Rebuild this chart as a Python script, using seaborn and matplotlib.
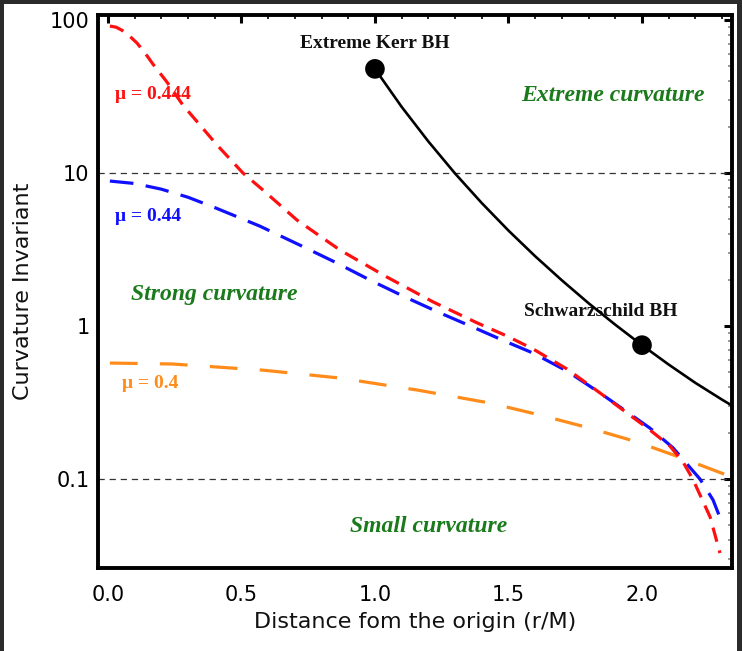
import matplotlib
matplotlib.use("Agg")
import matplotlib.pyplot as plt
import matplotlib.ticker as mticker
from matplotlib.patches import Rectangle
import seaborn as sns
import pandas as pd

# ---------------- data ----------------
red_x = [0.0075, 0.03, 0.052, 0.08, 0.109, 0.139, 0.169, 0.221, 0.281, 0.345, 0.408, 0.506, 0.581,
         0.708, 0.869, 1.045, 1.217, 1.382, 1.494, 1.592, 1.719, 1.843, 2.03,
         2.105, 2.154, 2.19, 2.255, 2.292]
red_y = [91.4, 90.0, 86.0, 79.0, 70.8, 61.0, 51.5, 39.4, 27.8, 20.6, 15.3, 10.0, 7.74,
         4.93, 3.14, 2.09, 1.44, 1.05, 0.861, 0.708, 0.524, 0.365, 0.209,
         0.164, 0.129, 0.100, 0.0565, 0.0328]

blue_x = [0.0075, 0.10, 0.20, 0.30, 0.40, 0.476, 0.569, 0.719, 0.850, 0.981, 1.112, 1.243,
          1.375, 1.494, 1.592, 1.719, 1.843, 2.03, 2.116, 2.217, 2.266, 2.30]
blue_y = [8.87, 8.55, 7.85, 6.95, 5.95, 5.25, 4.50, 3.38, 2.62, 2.00, 1.55, 1.22,
          0.97, 0.786, 0.666, 0.508, 0.365, 0.215, 0.160, 0.100, 0.073, 0.0515]

orange_x = [0.0075, 0.24, 0.58, 0.87, 1.157, 1.43, 1.618, 1.805, 1.98, 2.14, 2.318, 2.34]
orange_y = [0.573, 0.565, 0.515, 0.457, 0.382, 0.314, 0.262, 0.215, 0.175, 0.139, 0.106, 0.104]

bh_x = [1.0, 1.1, 1.2, 1.3, 1.4, 1.5, 1.6, 1.7, 1.8, 1.9, 2.0, 2.1, 2.2, 2.3, 2.4]
bh_y = [48, 27.1, 16.1, 9.94, 6.37, 4.21, 2.86, 1.99, 1.41, 1.02, 0.75, 0.56, 0.425, 0.33, 0.26]

marker_x = [1.0, 2.0]
marker_y = [48, 0.75]
marker_labels = ["Extreme Kerr BH", "Schwarzschild BH"]

ref_levels = [10, 0.1]
x_ticks = [0.0, 0.5, 1.0, 1.5, 2.0]
y_ticks = [0.1, 1, 10, 100]
y_tick_labels = ["0.1", "1", "10", "100"]

# ---------------- figure ----------------
sns.set_theme(style="white")
plt.rcParams["font.family"] = ["DejaVu Sans"]
plt.rcParams["lines.scale_dashes"] = False

fig = plt.figure(figsize=(7.42, 6.51), dpi=100, facecolor="#2b2b2b")
fig.patches.append(Rectangle((4 / 742, 0), 733 / 742, 1 - 4 / 651,
                             transform=fig.transFigure, facecolor="white",
                             edgecolor="none", zorder=-10))
ax = fig.add_axes([98 / 742, 1 - 568 / 651, 634 / 742, 553 / 651])
ax.set_facecolor("white")

for lv in ref_levels:
    ax.axhline(lv, color="#333333", lw=0.9, linestyle=(0, (4.5, 3.5)), zorder=1)

df_red = pd.DataFrame({"x": red_x, "y": red_y})
df_blue = pd.DataFrame({"x": blue_x, "y": blue_y})
df_orange = pd.DataFrame({"x": orange_x, "y": orange_y})
df_bh = pd.DataFrame({"x": bh_x, "y": bh_y})

sns.lineplot(data=df_orange, x="x", y="y", ax=ax, color="#ff8c1a", lw=2.3,
             linestyle=(0, (20, 16)), zorder=2)
sns.lineplot(data=df_blue, x="x", y="y", ax=ax, color="#1010ff", lw=2.3,
             linestyle=(0, (17, 9)), zorder=3)
sns.lineplot(data=df_red, x="x", y="y", ax=ax, color="#ff1010", lw=2.3,
             linestyle=(0, (10.5, 6.5)), zorder=4)
sns.lineplot(data=df_bh, x="x", y="y", ax=ax, color="black", lw=1.9, zorder=5)
sns.scatterplot(x=marker_x, y=marker_y, ax=ax, color="black", s=200,
                edgecolor="none", zorder=6)

ax.set_yscale("log")
ax.set_xlim(-0.037, 2.337)
ax.set_ylim(0.0262, 108)

ax.xaxis.set_major_locator(mticker.FixedLocator(x_ticks))
ax.xaxis.set_minor_locator(mticker.MultipleLocator(0.1))
ax.xaxis.set_major_formatter(mticker.FormatStrFormatter("%.1f"))
ax.yaxis.set_major_locator(mticker.FixedLocator(y_ticks))
ax.yaxis.set_major_formatter(mticker.FixedFormatter(y_tick_labels))
ax.yaxis.set_minor_locator(mticker.LogLocator(base=10, subs=range(2, 10)))
ax.yaxis.set_minor_formatter(mticker.NullFormatter())

ax.tick_params(which="both", direction="in", top=True, right=True, colors="black")
ax.tick_params(which="major", length=6, width=2.2, labelsize=15)
ax.tick_params(axis="x", which="major", pad=12)
ax.tick_params(axis="y", which="major", pad=6)
ax.tick_params(which="minor", length=3, width=1.2)
ax.tick_params(axis="y", which="minor", color="#888888")

for sp in ax.spines.values():
    sp.set_visible(True)
    sp.set_linewidth(2.8)
    sp.set_color("black")

ax.set_xlabel("Distance fom the origin (r/M)", fontsize=16, labelpad=5, color="#111111")
ax.set_ylabel("Curvature Invariant", fontsize=16, labelpad=12, color="#111111")

serif = ["Liberation Serif", "DejaVu Serif"]
green = "#1b7a1b"
ax.text(1.0, 70, marker_labels[0], ha="center", va="center", fontsize=14,
        fontweight="bold", family=serif, color="#111111")
ax.text(1.846, 1.25, marker_labels[1], ha="center", va="center", fontsize=14,
        fontweight="bold", family=serif, color="#111111")

ax.text(1.891, 32, "Extreme curvature", ha="center", va="center", fontsize=17,
        fontweight="bold", fontstyle="italic", family=serif, color=green)
ax.text(0.40, 1.62, "Strong curvature", ha="center", va="center", fontsize=17,
        fontweight="bold", fontstyle="italic", family=serif, color=green)
ax.text(1.20, 0.049, "Small curvature", ha="center", va="center", fontsize=17,
        fontweight="bold", fontstyle="italic", family=serif, color=green)

ax.text(0.026, 32.4, "μ = 0.444", ha="left", va="center", fontsize=14,
        fontweight="bold", family=serif, color="#ff1010")
ax.text(0.026, 5.2, "μ = 0.44", ha="left", va="center", fontsize=14,
        fontweight="bold", family=serif, color="#1010ff")
ax.text(0.052, 0.424, "μ = 0.4", ha="left", va="center", fontsize=14,
        fontweight="bold", family=serif, color="#ff8c1a")

fig.savefig("out.png", dpi=100, facecolor=fig.get_facecolor())
